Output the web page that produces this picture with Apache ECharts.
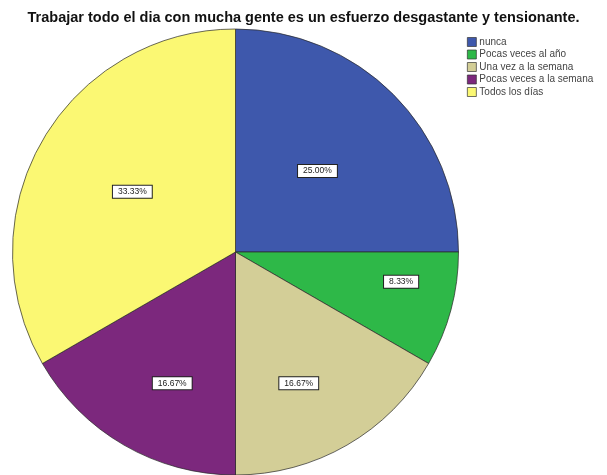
<!DOCTYPE html>
<html>
<head>
<meta charset="utf-8">
<script src="https://cdn.jsdelivr.net/npm/echarts@6/dist/echarts.min.js"></script>
<style>
  html, body { margin: 0; padding: 0; background: #fff; }
  #chart { width: 607px; height: 475px; }
</style>
</head>
<body>
<div id="chart"></div>
<script>
// Response categories and their counts
const categories = ['nunca', 'Pocas veces al año', 'Una vez a la semana', 'Pocas veces a la semana', 'Todos los días'];
const counts = [3, 1, 2, 2, 4];
const colors = ['#3E58AC', '#2EB848', '#D3CE97', '#7C287D', '#FBF873'];
// Nudges for the percentage boxes, relative to the default inside position
const labelOffsets = [[1, 0], [55, 0], [6, 32], [-6, 32], [-4, -3]];

const total = counts.reduce((a, b) => a + b, 0);

const chart = echarts.init(document.getElementById('chart'), null, { renderer: 'canvas' });
chart.setOption({
  animation: false,
  backgroundColor: '#fff',
  title: {
    text: 'Trabajar todo el dia con mucha gente es un esfuerzo desgastante y tensionante.',
    left: 'center',
    top: 5,
    textStyle: { fontFamily: 'Liberation Sans, Arial', fontSize: 14.5, fontWeight: 'bold', color: '#111' }
  },
  legend: {
    orient: 'vertical',
    left: 462,
    top: 32,
    itemWidth: 9,
    itemHeight: 9,
    itemGap: 2.5,
    icon: 'rect',
    selectedMode: false,
    textStyle: { fontFamily: 'Liberation Sans, Arial', fontSize: 10, color: '#444', padding: [0, 0, 0, -2] },
    itemStyle: { borderColor: '#333', borderWidth: 0.7 },
    data: categories
  },
  series: [{
    type: 'pie',
    center: [235.5, 252],
    radius: [0, 223],
    startAngle: 90,
    clockwise: true,
    silent: true,
    itemStyle: { borderColor: 'rgba(40,40,40,0.7)', borderWidth: 1 },
    labelLine: { show: false },
    data: categories.map((name, i) => ({
      name: name,
      value: counts[i],
      itemStyle: { color: colors[i] },
      label: {
        show: true,
        position: 'inside',
        offset: labelOffsets[i],
        formatter: () => (counts[i] / total * 100).toFixed(2) + '%',
        fontFamily: 'Liberation Sans, Arial',
        fontSize: 8.5,
        color: '#222',
        backgroundColor: '#fff',
        borderColor: '#222',
        borderWidth: 1,
        padding: [2, 5, 1, 5]
      }
    }))
  }]
});
</script>
</body>
</html>
